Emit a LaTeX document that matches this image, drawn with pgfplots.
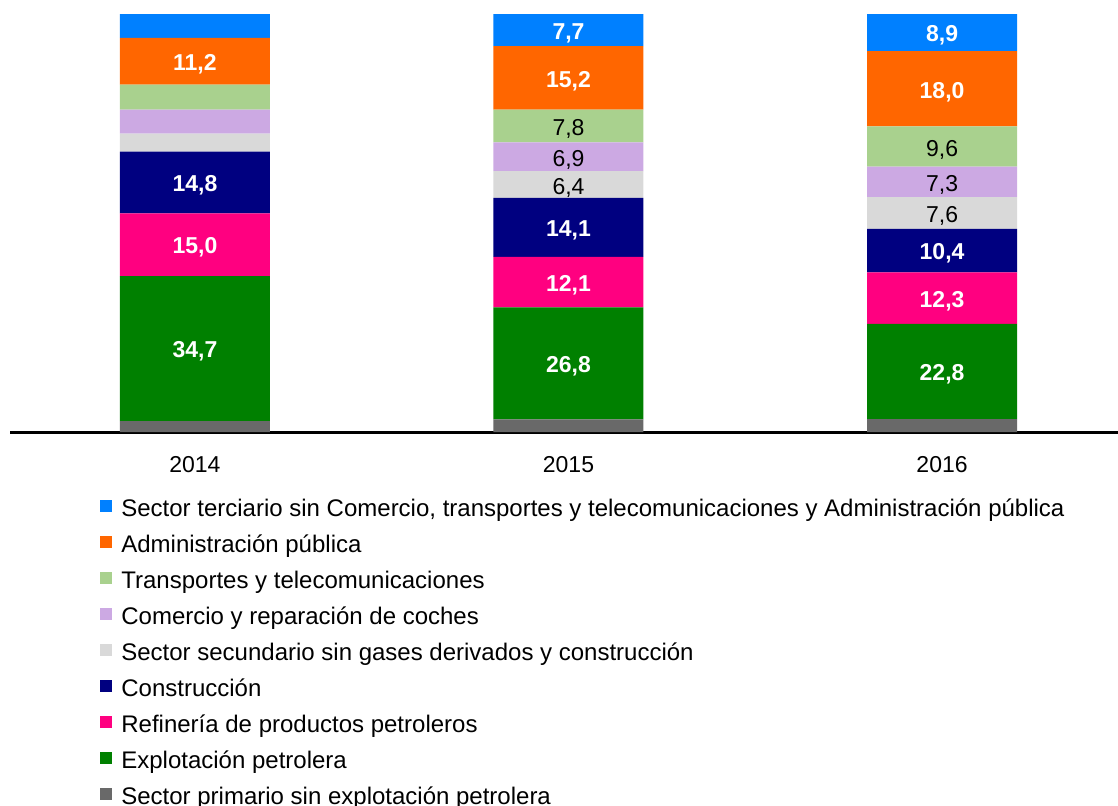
\documentclass[border=0pt]{standalone}
\usepackage{fontspec}
\setmainfont{Liberation Sans}
\usepackage{pgfplots}
\usepackage{pgfplotstable}
\pgfplotsset{compat=1.18}
\definecolor{cterc}{HTML}{0080FF}
\definecolor{cadmi}{HTML}{FF6600}
\definecolor{ctran}{HTML}{A9D18E}
\definecolor{ccome}{HTML}{CCA9E3}
\definecolor{csecu}{HTML}{D9D9D9}
\definecolor{ccons}{HTML}{000080}
\definecolor{crefi}{HTML}{FF0080}
\definecolor{cexpl}{HTML}{008000}
\definecolor{cprim}{HTML}{696969}
\pgfplotstableread{
x prim expl refi cons secu come tran admi terc lexpl lrefi lcons lsecu lcome ltran ladmi lterc
0 2.6 34.7 15.0 14.8 4.3 5.7 6.0 11.2 5.7 34,7 15,0 14,8 {} {} {} 11,2 {}
1 3.0 26.8 12.1 14.1 6.4 6.9 7.8 15.2 7.7 26,8 12,1 14,1 6,4 6,9 7,8 15,2 7,7
2 3.1 22.8 12.3 10.4 7.6 7.3 9.6 18.0 8.9 22,8 12,3 10,4 7,6 7,3 9,6 18,0 8,9
}\data
\pgfplotsset{
  sq/.style={fill=#1, draw=none,
    legend image code/.code={\fill[fill=#1] (0pt,-1pt) rectangle (6pt,5pt); \path (10.5pt,0pt);}},
  wl/.style={nodes near coords, every node near coord/.append style={text=white, font=\bfseries\fontsize{11.5}{13}\selectfont}},
  bl/.style={nodes near coords, every node near coord/.append style={text=black, font=\fontsize{11.5}{13}\selectfont}},
}
\begin{document}
\begin{tikzpicture}
\path[use as bounding box] (-5pt,-186.5pt) rectangle (554pt,216pt);
\begin{axis}[
  at={(0,0)}, anchor=south west,
  scale only axis, width=554pt, height=209pt,
  xmin=-0.495, xmax=2.471, ymin=0, ymax=100,
  ybar stacked, bar width=75pt,
  axis y line=none, axis x line=bottom,
  x axis line style={-, line width=1.5pt, black},
  xtick={0,1,2}, xticklabels={2014,2015,2016},
  xtick style={draw=none},
  xticklabel style={font=\fontsize{11.5}{13}\selectfont, anchor=north, inner sep=0pt, yshift=-10pt},
  clip=false,
  point meta=explicit symbolic,
  every node near coord/.append style={anchor=center, inner sep=0pt, yshift=-1.5pt},
  reverse legend,
  legend cell align=left,
  legend style={at={(0.0812,-0.1435)}, anchor=north west, draw=none, fill=none,
    inner sep=0pt, row sep=0pt, font=\fontsize{12}{14}\selectfont,
    nodes={inner sep=0pt, text height=12pt, text depth=6pt}},
]
\addplot[sq=cprim, point meta=none] table[x=x, y=prim] {\data};
\addlegendentry{Sector primario sin explotación petrolera}
\addplot[sq=cexpl, wl] table[x=x, y=expl, meta=lexpl] {\data};
\addlegendentry{Explotación petrolera}
\addplot[sq=crefi, wl] table[x=x, y=refi, meta=lrefi] {\data};
\addlegendentry{Refinería de productos petroleros}
\addplot[sq=ccons, wl] table[x=x, y=cons, meta=lcons] {\data};
\addlegendentry{Construcción}
\addplot[sq=csecu, bl] table[x=x, y=secu, meta=lsecu] {\data};
\addlegendentry{Sector secundario sin gases derivados y construcción}
\addplot[sq=ccome, bl] table[x=x, y=come, meta=lcome] {\data};
\addlegendentry{Comercio y reparación de coches}
\addplot[sq=ctran, bl] table[x=x, y=tran, meta=ltran] {\data};
\addlegendentry{Transportes y telecomunicaciones}
\addplot[sq=cadmi, wl] table[x=x, y=admi, meta=ladmi] {\data};
\addlegendentry{Administración pública}
\addplot[sq=cterc, wl] table[x=x, y=terc, meta=lterc] {\data};
\addlegendentry{Sector terciario sin Comercio, transportes y telecomunicaciones y Administración pública}
\end{axis}
\end{tikzpicture}
\end{document}
